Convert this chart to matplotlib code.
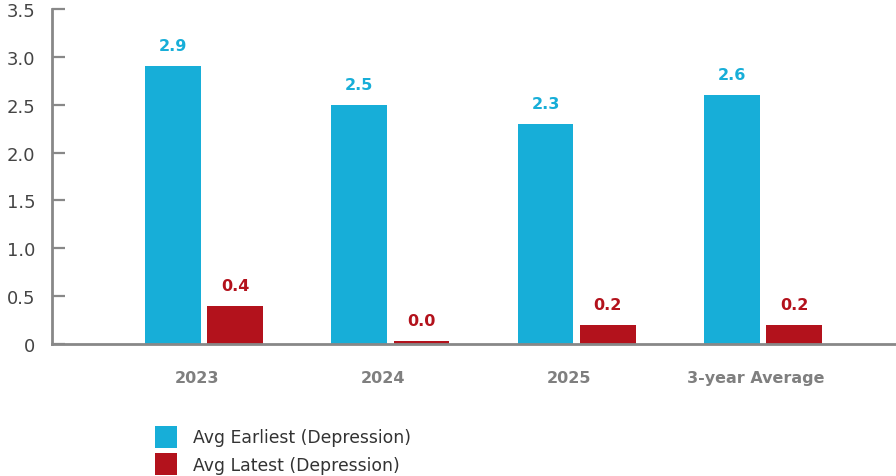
import matplotlib.pyplot as plt
import numpy as np

categories = ['2023', '2024', '2025', '3-year Average']
earliest = [2.9, 2.5, 2.3, 2.6]
latest = [0.4, 0.03, 0.2, 0.2]
earliest_labels = ['2.9', '2.5', '2.3', '2.6']
latest_labels = ['0.4', '0.0', '0.2', '0.2']
y_ticks = [0, 0.5, 1.0, 1.5, 2.0, 2.5, 3.0, 3.5]
y_tick_labels = ['0', '0.5', '1.0', '1.5', '2.0', '2.5', '3.0', '3.5']

cyan = '#17aed8'
red = '#b3121c'
axis_gray = '#888888'

plt.rcParams['font.family'] = ['DejaVu Sans']

fig = plt.figure(figsize=(8.96, 4.77), dpi=100)
ax = fig.add_axes([52 / 896, 132 / 477, 844 / 896, 335 / 477])

x = np.arange(len(categories))
w = 0.30
off = 0.167
b1 = ax.bar(x - off, earliest, w, color=cyan, label='Avg Earliest (Depression)')
b2 = ax.bar(x + off, latest, w, color=red, label='Avg Latest (Depression)')

for rect, txt in zip(b1, earliest_labels):
    ax.annotate(txt, (rect.get_x() + rect.get_width() / 2, rect.get_height()),
                xytext=(0, 13), textcoords='offset pixels', ha='center', va='bottom',
                color=cyan, fontsize=11.5, fontweight='bold')
for rect, txt in zip(b2, latest_labels):
    ax.annotate(txt, (rect.get_x() + rect.get_width() / 2, rect.get_height()),
                xytext=(0, 13), textcoords='offset pixels', ha='center', va='bottom',
                color=red, fontsize=11.5, fontweight='bold')

ax.set_xlim(-0.817, 3.715)
ax.set_ylim(0, 3.5)
ax.set_yticks(y_ticks)
ax.set_yticklabels(y_tick_labels)
ax.set_xticks(x - 0.04)
ax.set_xticklabels(categories)

for s in ['top', 'right']:
    ax.spines[s].set_visible(False)
for s in ['left', 'bottom']:
    ax.spines[s].set_color(axis_gray)
    ax.spines[s].set_linewidth(2)

ax.tick_params(axis='y', direction='in', length=9, width=1.6, color=axis_gray,
               pad=12, labelsize=13, labelcolor='#444444')
ax.tick_params(axis='x', length=0, pad=19, labelsize=11.5, labelcolor='#7f7f7f')
for lbl in ax.get_xticklabels():
    lbl.set_fontweight('bold')

fig.legend(handles=[b1, b2], loc='upper left', bbox_to_anchor=(146 / 896, 59 / 477),
           frameon=False, fontsize=12.4, handlelength=1.3, handleheight=1.6,
           handletextpad=0.9, labelspacing=0.3, borderpad=0, labelcolor='#333333')

fig.savefig('out.png', dpi=100)
